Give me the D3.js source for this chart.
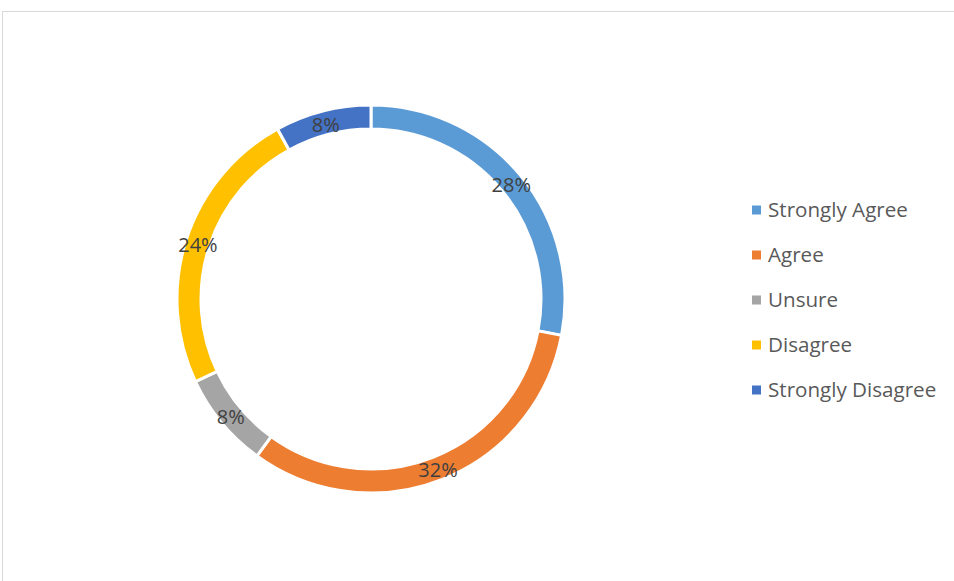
<!DOCTYPE html>
<html><head><meta charset="utf-8">
<script src="https://cdn.jsdelivr.net/npm/d3@7"></script>
<style>body{margin:0;background:#fff}</style>
</head><body>
<script>
const categories = ["Strongly Agree","Agree","Unsure","Disagree","Strongly Disagree"];
const values = [28,32,8,24,8];
const colors = ["#5B9BD5","#ED7D31","#A5A5A5","#FFC000","#4472C4"];

const W=954,H=581;
const svg=d3.select("body").append("svg").attr("width",W).attr("height",H);
svg.append("rect").attr("x",2.5).attr("y",11.5).attr("width",W+10).attr("height",H+10)
  .attr("fill","#fff").attr("stroke","#D9D9D9").attr("stroke-width",1);

const cx=371, cy=299, R=194, r=170;
const data=categories.map((c,i)=>({cat:c,value:values[i],color:colors[i]}));
const pie=d3.pie().value(d=>d.value).sort(null);
const arc=d3.arc().innerRadius(r).outerRadius(R);
const g=svg.append("g").attr("transform",`translate(${cx},${cy})`);
const arcs=pie(data);
g.selectAll("path").data(arcs).join("path").attr("d",arc)
  .attr("fill",d=>d.data.color).attr("stroke","#fff").attr("stroke-width",3);
const total=d3.sum(values);
g.selectAll("text").data(arcs).join("text")
  .attr("transform",d=>`translate(${arc.centroid(d)})`)
  .attr("text-anchor","middle").attr("dy","0.45em")
  .attr("font-family","'Open Sans', sans-serif").attr("font-size",20)
  .attr("fill","#404040")
  .text(d=>Math.round(d.data.value/total*100)+"%");

const lg=svg.append("g");
data.forEach((d,i)=>{
  const y=210+i*45;
  lg.append("rect").attr("x",752).attr("y",y-4.5).attr("width",9).attr("height",9).attr("fill",d.color);
  lg.append("text").attr("x",768).attr("y",y).attr("dy","0.35em")
    .attr("font-family","'Open Sans', sans-serif").attr("font-size",20.6).attr("fill","#595959").text(d.cat);
});
</script>
</body></html>
